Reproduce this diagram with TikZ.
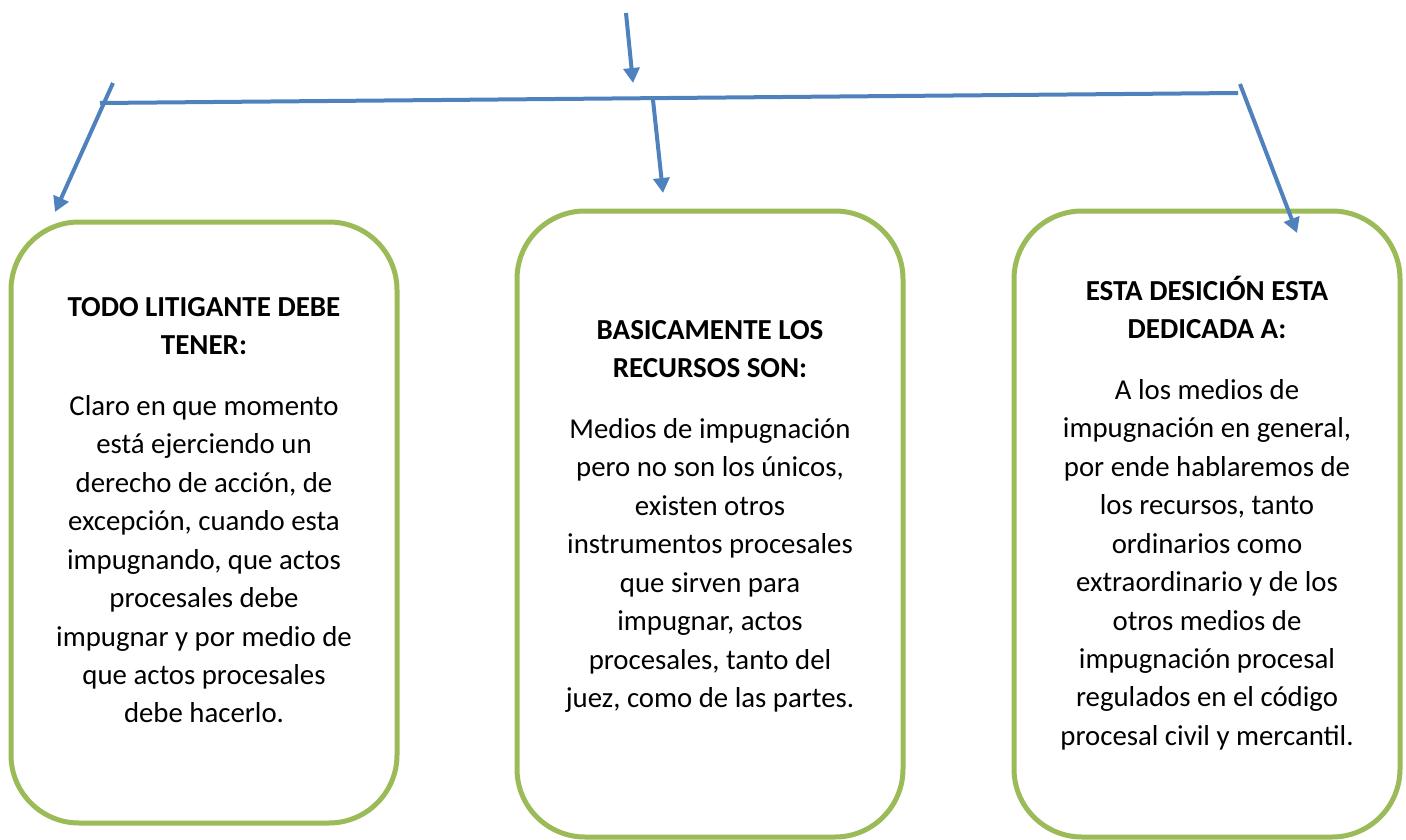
\documentclass[tikz,border=0pt]{standalone}
\usepackage{fontspec}
\setmainfont{Carlito}
\usetikzlibrary{arrows.meta}
\definecolor{verdecaja}{HTML}{9BBB59}
\definecolor{azulflecha}{HTML}{4F81BD}
\newcommand{\titulo}[1]{{\fontsize{29}{39}\selectfont\bfseries #1}}
\tikzset{
  caja/.style={draw=verdecaja, line width=5pt, rounded corners=68pt, minimum width=386pt, inner sep=0pt},
  texto/.style={anchor=base, text width=370pt, align=flush center, inner sep=0pt, font=\fontsize{28.8}{38.5}\selectfont},
  barra/.style={draw=azulflecha, line width=4pt},
  flecha/.style={barra, -{Triangle[width=16pt,length=15pt]}}
}
\begin{document}
\begin{tikzpicture}[x=1pt, y=-1pt]
  \useasboundingbox (0,0) rectangle (1406,840);
  % cajas
  \node [ caja, minimum height=601pt ] (caja1) at (204,522.5) {};
  \node [ caja, minimum height=626pt ] (caja2) at (710,524) {};
  \node [ caja, minimum height=626pt ] (caja3) at (1207,524) {};
  % textos
  \node [ texto ] (texto1) at (204,316) {\titulo{TODO LITIGANTE DEBE\\TENER:}\\[22pt]
    Claro en que momento\\ está ejerciendo un\\ derecho de acción, de\\ excepción, cuando esta\\
    impugnando, que actos\\ procesales debe\\ impugnar y por medio de\\ que actos procesales\\ debe hacerlo.};
  \node [ texto ] (texto2) at (710,339) {\titulo{BASICAMENTE LOS\\RECURSOS SON:}\\[22pt]
    Medios de impugnación\\ pero no son los únicos,\\ existen otros\\ instrumentos procesales\\
    que sirven para\\ impugnar, actos\\ procesales, tanto del\\ juez, como de las partes.};
  \node [ texto ] (texto3) at (1207,300) {\titulo{ESTA DESICIÓN ESTA\\DEDICADA A:}\\[22pt]
    A los medios de\\ impugnación en general,\\ por ende hablaremos de\\ los recursos, tanto\\
    ordinarios como\\ extraordinario y de los\\ otros medios de\\ impugnación procesal\\
    regulados en el código\\ procesal civil y mercantil.};
  % flechas
  \coordinate (entrada) at (626,13);
  \coordinate (llegada) at (633,83);
  \coordinate (barraI) at (100,103);
  \coordinate (barraD) at (1238,93);
  \coordinate (salida1) at (113,83);
  \coordinate (punta1) at (55,212);
  \coordinate (salida2) at (653,100);
  \coordinate (punta2) at (663,193);
  \coordinate (salida3) at (1240,84);
  \coordinate (punta3) at (1297,233);
  \draw [ flecha ] (entrada)--(llegada);
  \draw [ barra ] (barraI)--(barraD);
  \draw [ flecha ] (salida1)--(punta1);
  \draw [ flecha ] (salida2)--(punta2);
  \draw [ flecha ] (salida3)--(punta3);
\end{tikzpicture}
\end{document}
